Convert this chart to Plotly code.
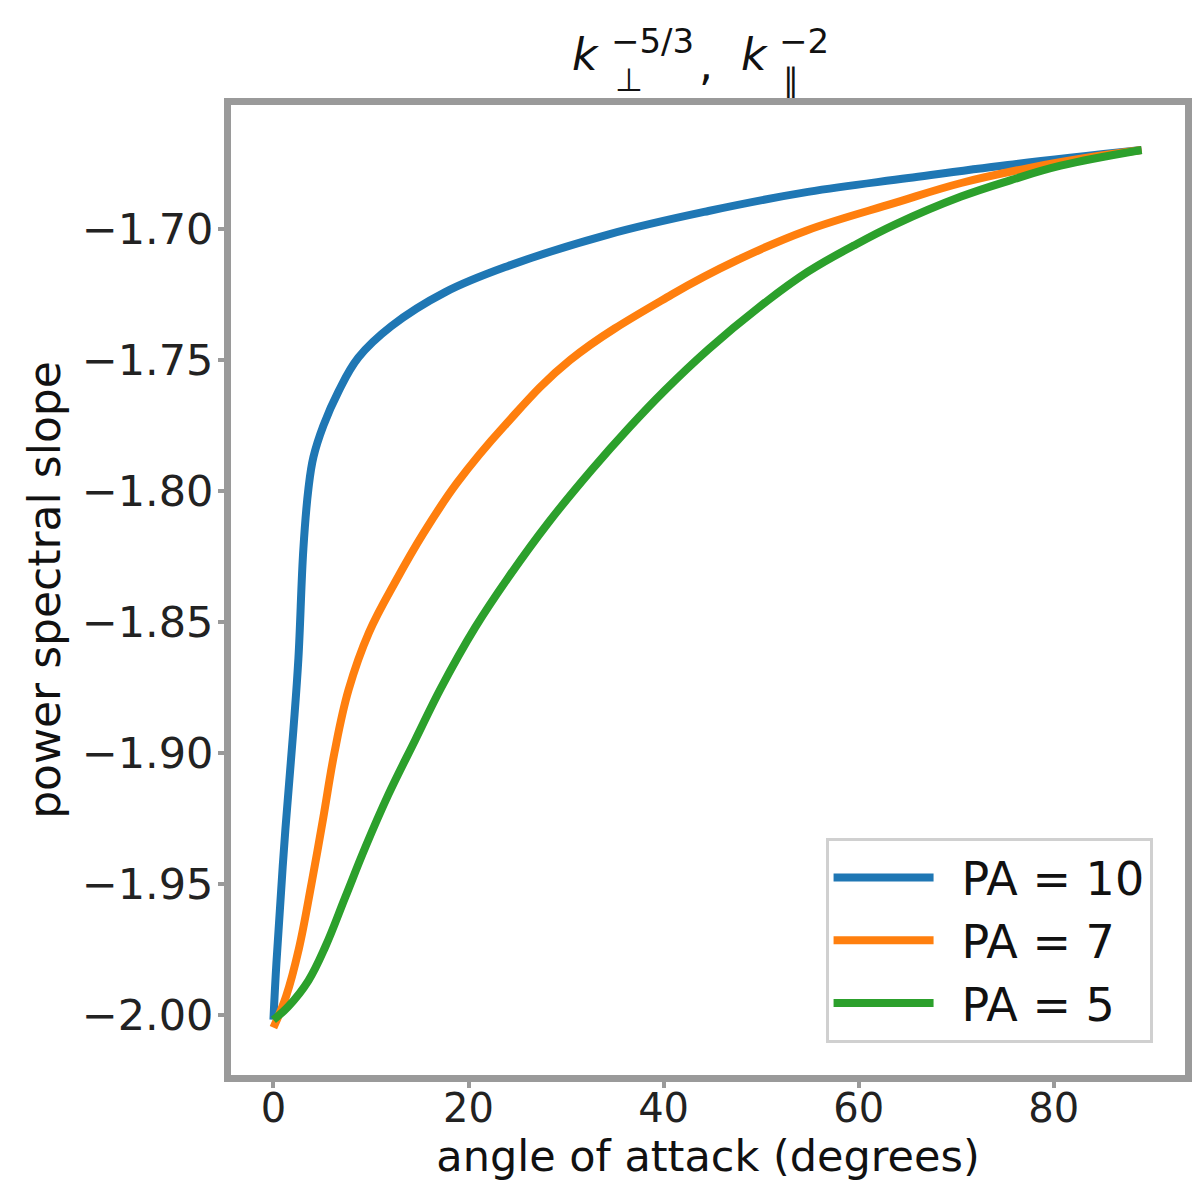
import plotly.graph_objects as go

# ---- data ----
angle_pa10 = [0, 0.31, 1.23, 2.05, 2.56, 3.07, 3.59, 4.1, 5.12, 6.66, 8.71, 12.09,
              17.62, 24.08, 34.3, 44.6, 54.8, 65.1, 75.3, 89]
slope_pa10 = [-2.002, -1.980, -1.929, -1.891, -1.864, -1.822, -1.799, -1.787, -1.775,
              -1.762, -1.749, -1.737, -1.724, -1.714, -1.702, -1.693, -1.6857, -1.6804,
              -1.6754, -1.6697]

angle_pa7 = [0, 1.3, 2.6, 3.9, 5.1, 6.25, 7.7, 9.8, 12.6, 15.4, 18.8, 23.7, 30.4, 40.8,
             47.7, 54.6, 63.7, 70.5, 77.4, 84.2, 89]
slope_pa7 = [-2.005, -1.993, -1.975, -1.950, -1.925, -1.900, -1.876, -1.854, -1.834,
             -1.816, -1.797, -1.775, -1.750, -1.725, -1.7115, -1.7005, -1.6899, -1.6823,
             -1.6766, -1.6722, -1.6697]

angle_pa5 = [0, 1.5, 3.59, 5.33, 7.38, 9.43, 11.78, 14.55, 17.21, 20.7, 24.08, 28.2,
             32.6, 36.5, 40.1, 44.6, 49.7, 54.8, 59.5, 63.7, 70.5, 75.6, 80.7, 89]
slope_pa5 = [-2.002, -1.997, -1.987, -1.974, -1.955, -1.936, -1.916, -1.895, -1.875,
             -1.852, -1.833, -1.812, -1.792, -1.7756, -1.7616, -1.7458, -1.7300, -1.7162,
             -1.7062, -1.6982, -1.6875, -1.6812, -1.6757, -1.6697]

series_names = ["PA = 10", "PA = 7", "PA = 5"]
series_colors = ["#1f77b4", "#ff7f0e", "#2ca02c"]

x_ticks = [0, 20, 40, 60, 80]
y_ticks = [-2.00, -1.95, -1.90, -1.85, -1.80, -1.75, -1.70]

FONT = "DejaVu Sans"
GAP = "\u2002"

fig = go.Figure()
for xs, ys, name, col in zip([angle_pa10, angle_pa7, angle_pa5],
                             [slope_pa10, slope_pa7, slope_pa5],
                             series_names, series_colors):
    fig.add_trace(go.Scatter(x=xs, y=ys, mode="lines", name=GAP + name,
                             line=dict(color=col, width=8, shape="spline", smoothing=1.1)))

axis_common = dict(showline=True, mirror=True, linecolor="#9a9a9a", linewidth=7,
                   showgrid=False, zeroline=False, ticks="outside", ticklen=6,
                   tickwidth=4, tickcolor="#9a9a9a", automargin=False)

fig.update_xaxes(range=[-4.35, 93.45], tickvals=x_ticks, ticklabelstandoff=-14,
                 tickfont=dict(family=FONT, size=40, color="#222"),
                 title=dict(text="angle of attack (degrees)",
                            font=dict(family=FONT, size=43, color="#111"), standoff=4),
                 **axis_common)
fig.update_yaxes(range=[-2.0231, -1.6525], tickvals=y_ticks, tickformat=".2f",
                 ticklabelstandoff=-4,
                 tickfont=dict(family=FONT, size=43, color="#222"),
                 title=dict(text="power spectral slope",
                            font=dict(family=FONT, size=44, color="#111"), standoff=10),
                 **axis_common)

# title built from pieces so sub/superscripts stack like mathtext
title_parts = [
    dict(text="<i>k</i>", x=0.372, y=1.052, size=44, xanchor="center"),
    dict(text="−5/3", x=0.3965, y=1.066, size=34, xanchor="left"),
    dict(text="⊥", x=0.400, y=1.026, size=32, xanchor="left"),
    dict(text=",", x=0.498, y=1.042, size=44, xanchor="center"),
    dict(text="<i>k</i>", x=0.549, y=1.052, size=44, xanchor="center"),
    dict(text="−2", x=0.5727, y=1.066, size=34, xanchor="left"),
    dict(text="∥", x=0.576, y=1.026, size=32, xanchor="left"),
]
for p in title_parts:
    fig.add_annotation(text=p["text"], x=p["x"], y=p["y"], xref="paper", yref="paper",
                       xanchor=p["xanchor"], yanchor="middle", showarrow=False,
                       font=dict(family=FONT, size=p["size"], color="#111"))

fig.update_layout(
    width=1200, height=1200,
    margin=dict(l=223, r=23, t=97, b=133),
    plot_bgcolor="white", paper_bgcolor="white",
    showlegend=True,
    legend=dict(x=0.966, y=0.033, xanchor="right", yanchor="bottom",
                bgcolor="white", bordercolor="#d0d0d0", borderwidth=3,
                font=dict(family=FONT, size=46, color="#111"),
                itemwidth=100),
)

fig.write_html("out.html")
